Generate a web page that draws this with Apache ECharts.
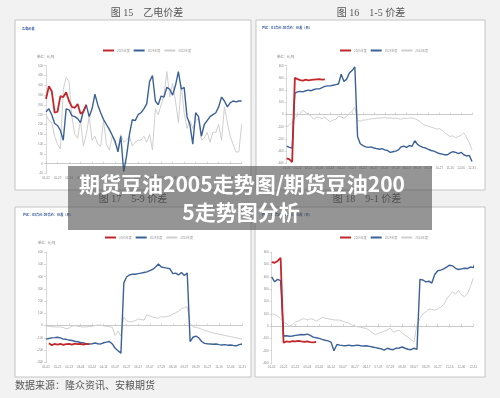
<!DOCTYPE html>
<html>
<head>
<meta charset="utf-8">
<script src="https://cdn.jsdelivr.net/npm/echarts@6/dist/echarts.min.js"></script>
<style>
  html, body { margin: 0; padding: 0; background: #f2f2f2; }
  #main { width: 500px; height: 398px; }
</style>
</head>
<body>
<div id="main"></div>
<script>
// x tick labels (one every 4 points)
const xTicks = ['01-02', '01-22', '02-13', '03-04', '03-24', '04-14', '05-07', '05-27', '06-17',
  '07-07', '07-29', '08-18', '09-07', '09-29', '10-27', '11-16', '12-06', '12-31'];
const seriesNames = ['2025年度', '2024年度', '2023年度'];

// 图15 乙电价差
const c1Red = [330, 395, 370, 260, 265, 345, 340, 365, 320, 290, 285, 305, 255, 265, 300];
const c1Blue = [265, 280, 250, 205, 195, 170, 120, 280, 275, 245, 240, 230, 210, 270, 300, 240, 280, 355,
  300, 260, 225, 200, 175, 145, 115, 60, 140, -40, 40, 150, 225, 220, 250, 260, 280, 305, 420, 450,
  320, 300, 345, 340, 390, 380, 350, 400, 470, 380, 390, 240, 200, 100, 260, 240, 140, 200, 220, 240,
  250, 260, 290, 340, 320, 290, 310, 320, 315, 320, 320];
const c1Gray = [250, 220, 210, 140, 100, 75, 380, 440, 420, 240, 150, 130, 220, 90, 150, 240, 120, 140,
  100, 90, 220, 100, 70, 140, 100, 80, 150, 110, 120, 140, 90, 110, 120, 120, 140, 110, 150, 70,
  280, 250, 300, 350, 470, 340, 410, 320, 210, 400, 260, 180, 220, 180, 220, 230, 120, 130, 160, 110,
  160, 160, 200, 120, 290, 210, 140, 100, 60, 60, 200];

// 图16 1-5价差
const c2Red = [-360, -368, -390, 300, 290, 282, 278, 285, 280, 283, 286, 288, 290, 286, 288];
const c2Blue = [-260, -270, -275, 175, 185, 190, 185, 195, 200, 195, 205, 210, 210, 220, 230, 235, 235, 240,
  245, 250, 330, 270, 290, 340, 360, 390, -180, -240, -255, -265, -270, -265, -275, -280, -285, -280,
  -290, -295, -310, -305, -300, -290, -265, -260, -270, -255, -260, -215, -245, -260, -270, -275, -285,
  -295, -300, -310, -320, -325, -330, -330, -315, -305, -310, -320, -310, -330, -340, -335, -385];
const c2Gray = [-100, -85, -65, -25, -10, 10, 35, 15, 5, -15, -40, -20, -25, -35, -20, -45, -60, -45,
  -40, -15, -20, -30, -15, 10, 25, 60, -50, -55, -45, -45, -40, -35, -35, -30, -30, -28, -25, -30,
  -28, -32, -30, -35, -38, -30, -32, -30, -28, -35, -45, -60, -80, -90, -95, -105, -110, -120, -115,
  -130, -150, -165, -180, -175, -190, -180, -170, -150, -190, -230, -290];

// 图17 5-9价差
const c3Red = [null, -145, -160, -150, -155, -150, -158, -152, -150, -155, -148, -152, -150, -155, -150, -152];
const c3Blue = [-110, -105, -100, -98, -95, -100, -110, -112, -118, -122, -128, -132, -138, -142, -148, -150,
  -148, -142, -148, -150, -140, -135, -130, -150, -185, -205, -225, 350, 400, 415, 420, 420, 425, 430,
  435, 440, 450, 460, 480, 505, 480, 475, 470, 465, 425, 430, 415, 435, 410, 430, -130, -95, -85, -100,
  -130, -145, -148, -150, -152, -150, -155, -158, -155, -160, -158, -162, -165, -155, -150];
const c3Gray = [-5, -5, -8, -10, -12, -10, -15, -25, -20, -5, 0, -5, -8, -12, -10, -8, -5, 0, 5, 5, -2, -5,
  -8, -15, -80, -45, -85, 70, 40, 30, 35, 40, 55, 50, 45, 90, 80, 70, 65, 60, 75, 70, 75, 80, 95, 105,
  120, 140, 145, 155, 20, -10, -15, -20, -30, -40, -45, -55, -60, -65, -70, -75, -80, -85, -90, -95,
  -100, -105, -110];

// 图18 9-1价差
const c4Red = [520, 515, 530, 555, -135, -125, -128, -122, -125, -120, -125, -128, -125, -130, -132, -128];
const c4Blue = [400, 360, 380, 370, -80, -78, -82, -80, -75, -72, -68, -70, -65, -75, -90, -95, -100, -108,
  -115, -120, -130, -200, -150, -155, -158, -160, -155, -160, -158, -155, -160, -162, -160, -165, -170,
  -175, -180, -185, -195, -180, -188, -192, -180, -178, -170, -180, -188, -192, -180, -190, 380, 375,
  360, 365, 350, 420, 450, 455, 465, 480, 495, 490, 470, 460, 465, 470, 468, 480, 475, 535];
const c4Gray = [100, 95, 80, 60, 30, 20, 0, 10, 35, 40, 55, 60, 50, 60, 55, 40, 55, 70, 65, 60, 55, 50, 50,
  48, 40, 30, 25, 10, 0, -5, -10, -15, -20, -35, -55, -70, -60, -50, -40, -30, -15, -50, -40, -35, -55,
  -75, -90, -110, -130, 10, 60, 100, 115, 140, 135, 130, 140, 155, 175, 220, 250, 280, 260, 290, 255,
  240, 260, 320, 390];

const panels = [
  {grid: {left: 46, top: 65.7, width: 195.7, height: 107.8}, yMin: -50, yMax: 500, yStep: 50,
    data: [c1Red, c1Blue, c1Gray]},
  {grid: {left: 286.7, top: 65.7, width: 185.3, height: 97.6}, yMin: -400, yMax: 400, yStep: 100,
    data: [c2Red, c2Blue, c2Gray]},
  {grid: {left: 46, top: 252.3, width: 196, height: 110}, yMin: -300, yMax: 600, yStep: 100,
    data: [c3Red, c3Blue, c3Gray]},
  {grid: {left: 271.7, top: 252.3, width: 201.6, height: 110.7}, yMin: -300, yMax: 600, yStep: 100,
    data: [c4Red, c4Blue, c4Gray]},
];

const colors = ['#c3262b', '#3b6196', '#cfcfcf'];
const widths = [1.8, 1.4, 1];
const smallFont = 'Liberation Sans';

const toPairs = (arr) => arr.map((v, i) => [i, v]);

const grid = [], xAxis = [], yAxis = [], series = [];
panels.forEach((p, i) => {
  grid.push(p.grid);
  // labels at the bottom
  xAxis.push({
    gridIndex: i, type: 'value', min: 0, max: 68, interval: 4,
    axisLine: {show: false}, axisTick: {show: false}, splitLine: {show: false},
    axisLabel: {fontSize: 3, color: '#888', margin: 3, fontFamily: smallFont,
      formatter: (v) => xTicks[v / 4] || ''}
  });
  // zero line with ticks
  xAxis.push({
    gridIndex: i, type: 'value', min: 0, max: 68, interval: 4,
    axisLine: {show: true, onZero: true, lineStyle: {color: '#bdbdbd', width: 0.8}},
    axisTick: {show: true, length: 2, lineStyle: {color: '#bdbdbd', width: 0.6}},
    axisLabel: {show: false}, splitLine: {show: false}
  });
  yAxis.push({
    gridIndex: i, type: 'value', min: p.yMin, max: p.yMax, interval: p.yStep,
    axisLine: {show: true, lineStyle: {color: '#bdbdbd', width: 0.8}},
    axisTick: {show: true, length: 2, lineStyle: {color: '#bdbdbd', width: 0.6}},
    axisLabel: {fontSize: 3, color: '#888', margin: 3, fontFamily: smallFont},
    splitLine: {show: false}
  });
  yAxis.push({
    gridIndex: i, type: 'value', position: 'right', min: p.yMin, max: p.yMax, interval: p.yStep,
    axisLine: {show: true, lineStyle: {color: '#dddddd', width: 0.8}},
    axisTick: {show: false}, axisLabel: {show: false}, splitLine: {show: false}
  });
  p.data.forEach((arr, k) => {
    series.push({
      name: seriesNames[k], type: 'line', xAxisIndex: 2 * i, yAxisIndex: 2 * i,
      data: toPairs(arr), symbol: 'none', z: 5 - k,
      lineStyle: {color: colors[k], width: widths[k]}, itemStyle: {color: colors[k]}
    });
  });
});

const legendPos = [[98, 44], [335, 44], [100, 231], [335, 231]];
const legend = legendPos.map(([x, y]) => ({
  data: seriesNames, left: x, top: y, icon: 'rect', itemWidth: 11, itemHeight: 2, itemGap: 4,
  textStyle: {fontSize: 3, color: '#999', fontFamily: 'Noto Sans CJK SC', padding: [0, 0, 0, -2]}
}));

const captionFont = '10px "Liberation Serif", "Noto Sans CJK SC"';
const tinyFont = '3.2px "Noto Sans CJK SC"';
const boxes = [[15, 20, 236, 170], [256, 20, 229, 170], [15, 207, 236, 170], [255, 207, 230, 170]];

const graphic = [];
boxes.forEach(([x, y, w, h]) => {
  graphic.push({type: 'rect', shape: {x: x, y: y, width: w, height: h}, z: -10,
    style: {fill: '#ffffff', stroke: '#c4c4c4', lineWidth: 1}});
});
[
  ['图 15    乙电价差', 147, 13], ['图 16    1-5 价差', 371, 13],
  ['图 17    5-9 价差', 133, 199], ['图 18    9-1 价差', 367, 199]
].forEach(([t, x, y]) => {
  graphic.push({type: 'text', z: 1,
    style: {text: t, x: x, y: y, textAlign: 'center', textVerticalAlign: 'middle', font: captionFont, fill: '#555'}});
});
[
  ['乙电价差', 22, 29], ['PVC：01合约-05合约：价差（日）', 262, 28],
  ['PVC：05合约-09合约：价差（日）', 23, 215], ['PVC：09合约-01合约：价差（日）', 262, 215]
].forEach(([t, x, y]) => {
  graphic.push({type: 'text', z: 1,
    style: {text: t, x: x, y: y, textVerticalAlign: 'middle', font: 'bold ' + tinyFont, fill: '#2f5597'}});
});
[['单位：元/吨', 37, 57], ['单位：元/吨', 277, 57], ['单位：元/吨', 38, 243]].forEach(([t, x, y]) => {
  graphic.push({type: 'text', z: 1,
    style: {text: t, x: x, y: y, textVerticalAlign: 'middle', font: tinyFont, fill: '#888'}});
});
graphic.push({type: 'text', z: 1,
  style: {text: '数据来源：隆众资讯、安粮期货', x: 15, y: 385, textVerticalAlign: 'middle',
    font: '10px "Noto Sans CJK SC"', fill: '#555'}});
// title banner over the charts
graphic.push({type: 'rect', z: 100, shape: {x: 68, y: 166, width: 364, height: 64},
  style: {fill: 'rgba(78,78,78,0.6)'}});
graphic.push({type: 'text', z: 101,
  style: {text: '期货豆油2005走势图/期货豆油200', x: 242, y: 184, textAlign: 'center', textVerticalAlign: 'middle',
    font: 'bold 21px "Noto Sans CJK SC"', fill: '#ffffff'}});
graphic.push({type: 'text', z: 101,
  style: {text: '5走势图分析', x: 241, y: 212, textAlign: 'center', textVerticalAlign: 'middle',
    font: 'bold 21px "Noto Sans CJK SC"', fill: '#ffffff'}});

const chart = echarts.init(document.getElementById('main'));
chart.setOption({
  backgroundColor: '#f2f2f2',
  animation: false,
  grid: grid,
  xAxis: xAxis,
  yAxis: yAxis,
  legend: legend,
  series: series,
  graphic: graphic
});
</script>
</body>
</html>
